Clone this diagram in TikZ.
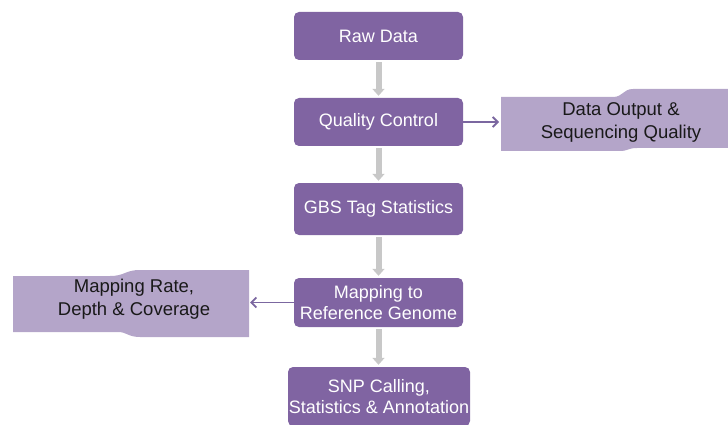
\documentclass[tikz,border=0pt]{standalone}
\usepackage{fontspec}
\setmainfont{Liberation Sans}
\usetikzlibrary{calc,arrows.meta}
\definecolor{boxpurple}{HTML}{8064A2}
\definecolor{wavelilac}{HTML}{B4A5C9}
\definecolor{flowgray}{HTML}{C8C8C8}
\definecolor{sidepurple}{HTML}{7B67A0}
\tikzset{
	stepbox/.style={fill=boxpurple, rounded corners=5pt, text=white, inner sep=0pt, align=center, font=\fontsize{18}{20.5}\selectfont, minimum width=169pt},
	wavetext/.style={inner sep=0pt, align=center, text=black!90, font=\fontsize{18.5}{23}\selectfont},
	flow/.style={draw=flowgray, line width=6pt, -{Triangle[length=7pt,width=12pt]}, shorten <=2pt, shorten >=2pt},
	side/.style={draw=sidepurple, line width=1.8pt, -{Straight Barb[length=5pt,width=10pt]}}
}

\begin{document}
\begin{tikzpicture}[x=1pt, y=-1pt]
			%%%%% START %%%%%
			\useasboundingbox (0, 0) rectangle (728, 425);
			
			\node[stepbox, minimum height=48pt] (raw) at (378.5, 36) {Raw Data};
			\node[stepbox, minimum height=48pt] (qc) at (378.5, 122) {Quality Control};
			\node[stepbox, minimum height=52pt] (gbs) at (378.5, 209) {GBS Tag Statistics};
			\node[stepbox, minimum height=49pt] (map) at (378.5, 302.5) {Mapping to\\Reference Genome};
			\node[stepbox, minimum height=59pt, minimum width=182pt] (snp) at (379, 396.5) {SNP Calling,\\Statistics \& Annotation};
			
			\draw[flow] (raw) -- (qc);
			\draw[flow] (qc) -- (gbs);
			\draw[flow] (gbs) -- (map);
			\draw[flow] (map.south) -- (map.south |- snp.north);
			
			% wavy side boxes
			\fill[wavelilac] (501, 97) -- (613, 97) .. controls (623, 97) and (623, 89) .. (633, 89) -- (740, 89)
				-- (740, 148) -- (637, 148) .. controls (628, 148) and (628, 151) .. (620, 151) -- (501, 151) -- cycle;
			\node[wavetext] (dout) at (621, 122) {Data Output \&\\Sequencing Quality};
			\coordinate (doutin) at (499, 122);
			
			\fill[wavelilac] (13, 276) -- (110, 276) .. controls (125, 276) and (125, 270) .. (140, 270) -- (249, 270)
				-- (249, 337) -- (140, 337) .. controls (128, 337) and (127, 332) .. (118, 332) -- (13, 332) -- cycle;
			\node[wavetext] (mrate) at (134, 299) {Mapping Rate,\\Depth \& Coverage};
			\coordinate (mratein) at (250, 302.5);
			
			\draw[side] (qc.east) -- (doutin);
			\draw[side] (map.west) -- (mratein);
			%%%%% END %%%%%
		\end{tikzpicture}
\end{document}
